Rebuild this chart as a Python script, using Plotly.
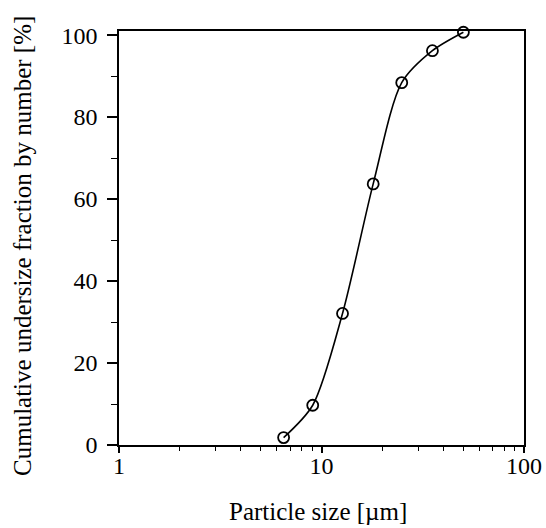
import plotly.graph_objects as go

size_um = [6.5, 9.05, 12.7, 18.0, 24.9, 35.3, 50.2]
cum_fraction = [1.8, 9.7, 32.1, 63.7, 88.4, 96.2, 100.7]
x_ticks = [1, 10, 100]
x_minor = [2, 3, 4, 5, 6, 7, 8, 9, 20, 30, 40, 50, 60, 70, 80, 90]
y_ticks = [0, 20, 40, 60, 80, 100]
x_title = "Particle size [µm]"
y_title = "Cumulative undersize fraction by number [%]"

font = "Liberation Serif"

fig = go.Figure()
fig.add_trace(go.Scatter(
    x=size_um, y=cum_fraction, mode="lines+markers",
    line=dict(color="black", width=1.6, shape="spline", smoothing=0.8),
    marker=dict(symbol="circle-open", size=11, color="black", line=dict(width=1.8)),
    cliponaxis=False, showlegend=False,
))

fig.update_layout(
    width=546, height=528,
    margin=dict(l=119, r=22, t=31, b=83),
    paper_bgcolor="white", plot_bgcolor="white",
    font=dict(family=font, size=24, color="black"),
)
fig.update_xaxes(
    type="log", range=[0, 2], tickvals=x_ticks, ticktext=[str(v) for v in x_ticks],
    showgrid=False, zeroline=False, showline=True, linecolor="black", linewidth=1.6,
    mirror=True, ticks="outside", ticklen=6, tickwidth=1.6, tickcolor="black",
    minor=dict(tickvals=x_minor, ticks="outside", ticklen=4, tickwidth=1.3, tickcolor="black", showgrid=False),
    ticklabelstandoff=-8, automargin=False,
)
fig.update_yaxes(
    range=[0, 101], tickvals=y_ticks,
    showgrid=False, zeroline=False, showline=True, linecolor="black", linewidth=1.6,
    mirror=True, ticks="outside", ticklen=10, tickwidth=1.6, tickcolor="black",
    minor=dict(dtick=10, ticks="outside", ticklen=6, tickwidth=1.3, tickcolor="black", showgrid=False),
    ticklabelstandoff=5, automargin=False,
)
fig.add_annotation(
    text=y_title, textangle=-90, xref="paper", yref="paper",
    x=0, y=0.4807, xanchor="center", yanchor="middle", xshift=-96,
    showarrow=False, font=dict(size=25, family=font),
)
fig.add_annotation(
    text=x_title, xref="paper", yref="paper",
    x=0.491, y=0, xanchor="center", yanchor="middle", yshift=-66,
    showarrow=False, font=dict(size=25, family=font),
)

fig.write_html(
    "out.html",
    config={"displayModeBar": False},
    post_script="document.body.style.margin='0';document.body.style.overflow='hidden';",
)
